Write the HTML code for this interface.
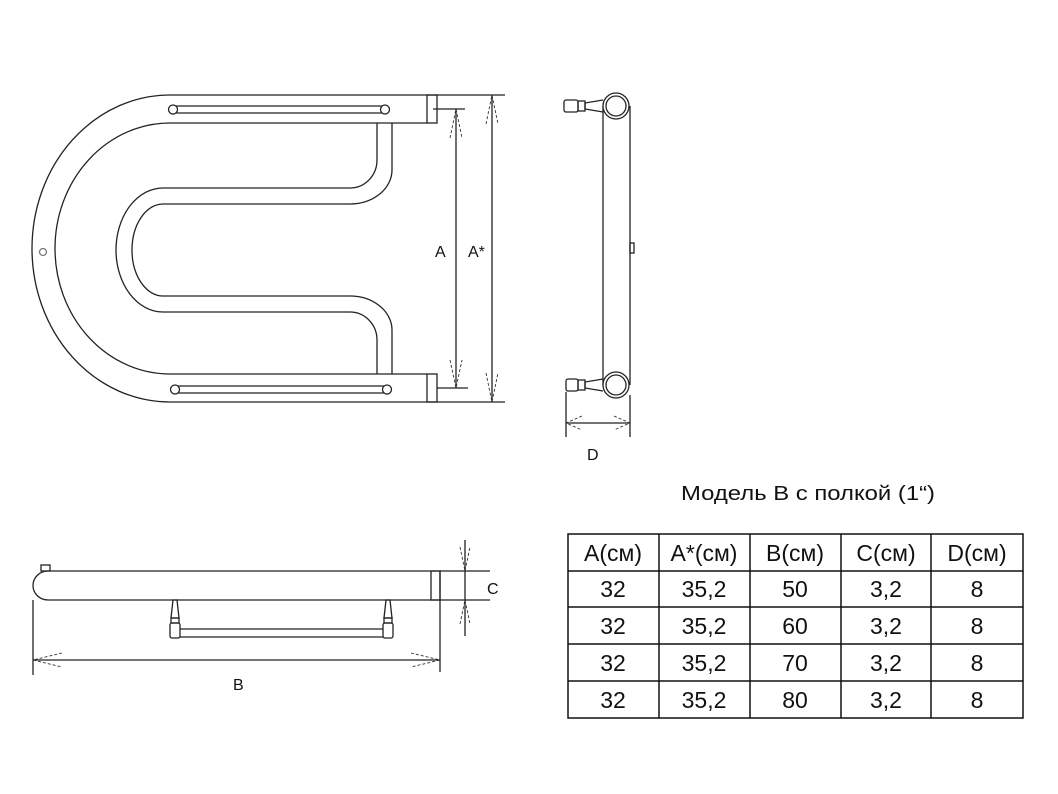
<!DOCTYPE html>
<html><head><meta charset="utf-8"><style>
html,body{margin:0;padding:0;background:#fff}
svg{display:block}
text{font-family:"Liberation Sans",sans-serif;fill:#111}
</style></head><body>
<svg width="1058" height="794" viewBox="0 0 1058 794" xmlns="http://www.w3.org/2000/svg">
<g fill="none" stroke="#222" stroke-width="1.3">
<path d="M437,95 L170,95 A138,153.5 0 0 0 170,402 L437,402"/>
<path d="M427,123 L170,123 A115,125.5 0 0 0 170,374 L427,374"/>
<rect x="427" y="95" width="10" height="28"/>
<rect x="427" y="374" width="10" height="28"/>
<path d="M173,106 L385,106 M173,113 L385,113"/>
<circle cx="173" cy="109.5" r="4.5" fill="#fff"/>
<circle cx="385" cy="109.5" r="4.5" fill="#fff"/>
<path d="M175,386 L387,386 M175,393 L387,393"/>
<circle cx="175" cy="389.5" r="4.5" fill="#fff"/>
<circle cx="387" cy="389.5" r="4.5" fill="#fff"/>
<circle cx="43" cy="252" r="3.5" stroke="#777"/>
<path d="M392,123 V170 A42,34 0 0 1 350,204 L163,204 A31,46 0 0 0 163,296 L350,296 A42,34 0 0 1 392,330 V374"/>
<path d="M377,123 V160 A27,28 0 0 1 350,188 L163,188 A47,62 0 0 0 163,312 L350,312 A27,28 0 0 1 377,340 V374"/>
<path d="M433,109 H465 M437,388 H468 M456,109 V388"/>
<path d="M437,95 H505 M437,402 H505 M492,95 V402"/>
</g>
<g fill="none" stroke="#333" stroke-width="0.9" stroke-dasharray="3,2">
<path d="M450,138 L456,109 L462,138 M450,360 L456,388 L462,360"/>
<path d="M486,124 L492,95 L498,124 M486,373 L492,402 L498,373"/>
</g>
<text x="435" y="257" font-size="16">A</text>
<text x="468" y="257" font-size="16">A*</text>

<g fill="none" stroke="#222" stroke-width="1.3">
<path d="M603,106 V385 M630,106 V385"/>
<circle cx="616" cy="106" r="13" fill="#fff"/>
<circle cx="616" cy="106" r="10"/>
<circle cx="616" cy="385" r="13" fill="#fff"/>
<circle cx="616" cy="385" r="10"/>
<rect x="630" y="243" width="4" height="10"/>
<path d="M603,100 L585,103 V109 L603,112"/>
<rect x="578" y="101" width="7" height="10"/>
<rect x="564" y="100" width="14" height="12" rx="2"/>
<path d="M603,379 L585,382 V388 L603,391"/>
<rect x="578" y="380" width="7" height="10"/>
<rect x="566" y="379" width="12" height="12" rx="2"/>
<path d="M566,392 V437 M630,395 V437 M566,423 H630"/>
</g>
<path d="M582,416 L566,423 L582,430 M614,416 L630,423 L614,430" fill="none" stroke="#333" stroke-width="0.9" stroke-dasharray="3,2"/>
<text x="587" y="460" font-size="16">D</text>

<g fill="none" stroke="#222" stroke-width="1.3">
<path d="M440,571 H48 A15,14.5 0 0 0 48,600 H440 Z"/>
<rect x="431" y="571" width="9" height="29"/>
<rect x="41" y="565" width="9" height="6"/>
<path d="M173,600 L171,618 L179,618 L177,600 Z M386,600 L384,618 L392,618 L390,600 Z"/>
<rect x="171" y="618" width="8" height="5"/>
<rect x="384" y="618" width="8" height="5"/>
<rect x="170" y="623" width="10" height="15" rx="2"/>
<rect x="383" y="623" width="10" height="15" rx="2"/>
<path d="M180,629 H383 M180,637 H383"/>
<path d="M33,600 V675 M440,600 V672 M33,660 H440"/>
<path d="M440,571 H490 M440,600 H490 M465,540 V636"/>
</g>
<path d="M62,653 L33,660 L62,667 M411,653 L440,660 L411,667 M460,547 L465,571 L470,547 M460,624 L465,600 L470,624" fill="none" stroke="#333" stroke-width="0.9" stroke-dasharray="3,2"/>
<text x="233" y="690" font-size="16">B</text>
<text x="487" y="594" font-size="16">C</text>

<text x="681" y="500" font-size="20" textLength="254" lengthAdjust="spacingAndGlyphs">Модель В с полкой (1“)</text>

<g fill="none" stroke="#111" stroke-width="1.5">
<rect x="568" y="534" width="455" height="184"/>
<path d="M568,571 H1023 M568,607 H1023 M568,644 H1023 M568,681 H1023"/>
<path d="M659,534 V718 M750,534 V718 M841,534 V718 M931,534 V718"/>
</g>
<g font-size="23" text-anchor="middle">
<text x="613" y="561">A(см)</text><text x="704" y="561">A*(см)</text><text x="795" y="561">B(см)</text><text x="886" y="561">C(см)</text><text x="977" y="561">D(см)</text>
<text x="613" y="597">32</text><text x="704" y="597">35,2</text><text x="795" y="597">50</text><text x="886" y="597">3,2</text><text x="977" y="597">8</text>
<text x="613" y="634">32</text><text x="704" y="634">35,2</text><text x="795" y="634">60</text><text x="886" y="634">3,2</text><text x="977" y="634">8</text>
<text x="613" y="671">32</text><text x="704" y="671">35,2</text><text x="795" y="671">70</text><text x="886" y="671">3,2</text><text x="977" y="671">8</text>
<text x="613" y="708">32</text><text x="704" y="708">35,2</text><text x="795" y="708">80</text><text x="886" y="708">3,2</text><text x="977" y="708">8</text>
</g>
</svg>
</body></html>
